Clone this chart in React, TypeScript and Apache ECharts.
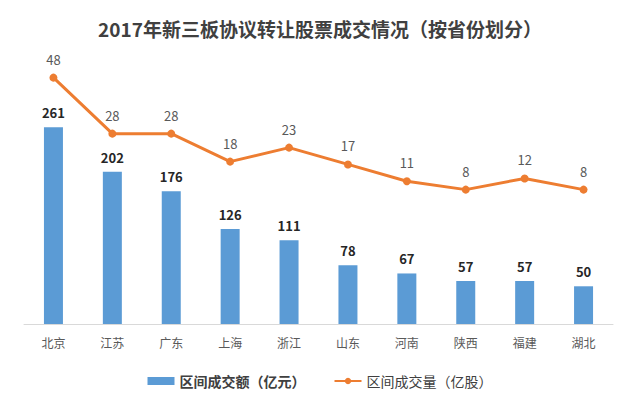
import React, { useEffect, useRef } from "react";
import * as echarts from "echarts";

const categories = ["北京", "江苏", "广东", "上海", "浙江", "山东", "河南", "陕西", "福建", "湖北"];
const amountValues = [261, 202, 176, 126, 111, 78, 67, 57, 57, 50];
const volumeValues = [48, 28, 28, 18, 23, 17, 11, 8, 12, 8];
const titleText = "2017年新三板协议转让股票成交情况（按省份划分）";
const amountName = "区间成交额（亿元）";
const volumeName = "区间成交量（亿股）";

const FONT = "'Noto Sans CJK SC', 'Noto Sans', sans-serif";

export default function App() {
  const ref = useRef<HTMLDivElement>(null);
  useEffect(() => {
    if (!ref.current) return;
    const chart = echarts.init(ref.current, null, { renderer: "svg" });
    chart.setOption({
      animation: false,
      backgroundColor: "#ffffff",
      textStyle: { fontFamily: FONT },
      title: {
        text: titleText,
        left: "center",
        top: 14,
        textStyle: { fontSize: 19, fontWeight: "bold", color: "#404040", fontFamily: FONT },
      },
      legend: {
        top: 369,
        left: "center",
        itemGap: 28,
        itemWidth: 27,
        itemHeight: 8,
        textStyle: { fontSize: 14, color: "#404040", fontFamily: FONT },
        data: [
          { name: amountName, icon: "rect", textStyle: { fontWeight: "bold" } },
          { name: volumeName },
        ],
      },
      grid: { left: 24, right: 27, top: 60, bottom: 76 },
      xAxis: {
        type: "category",
        data: categories,
        axisTick: { show: false },
        axisLine: { lineStyle: { color: "#D9D9D9", width: 1 } },
        axisLabel: { color: "#595959", fontSize: 12, margin: 12, fontFamily: FONT },
      },
      yAxis: [
        { type: "value", min: 0, max: 350, show: false, splitLine: { show: false } },
        { type: "value", min: -40, max: 54.3, show: false, splitLine: { show: false } },
      ],
      series: [
        {
          name: amountName,
          type: "bar",
          data: amountValues,
          barWidth: 19,
          itemStyle: { color: "#5B9BD5" },
          label: {
            show: true,
            position: "top",
            distance: 8,
            color: "#262626",
            fontWeight: "bold",
            fontSize: 13,
            fontFamily: FONT,
          },
        },
        {
          name: volumeName,
          type: "line",
          yAxisIndex: 1,
          data: volumeValues,
          itemStyle: { color: "#ED7D31" },
          lineStyle: { color: "#ED7D31", width: 3 },
          symbol: "circle",
          symbolSize: 8,
          label: {
            show: true,
            position: "top",
            distance: 8,
            color: "#595959",
            fontSize: 13,
            fontFamily: FONT,
          },
        },
      ],
    });
    return () => chart.dispose();
  }, []);
  return (
    <div
      ref={ref}
      style={{ position: "absolute", left: 0, top: 0, width: 640, height: 400 }}
    />
  );
}
